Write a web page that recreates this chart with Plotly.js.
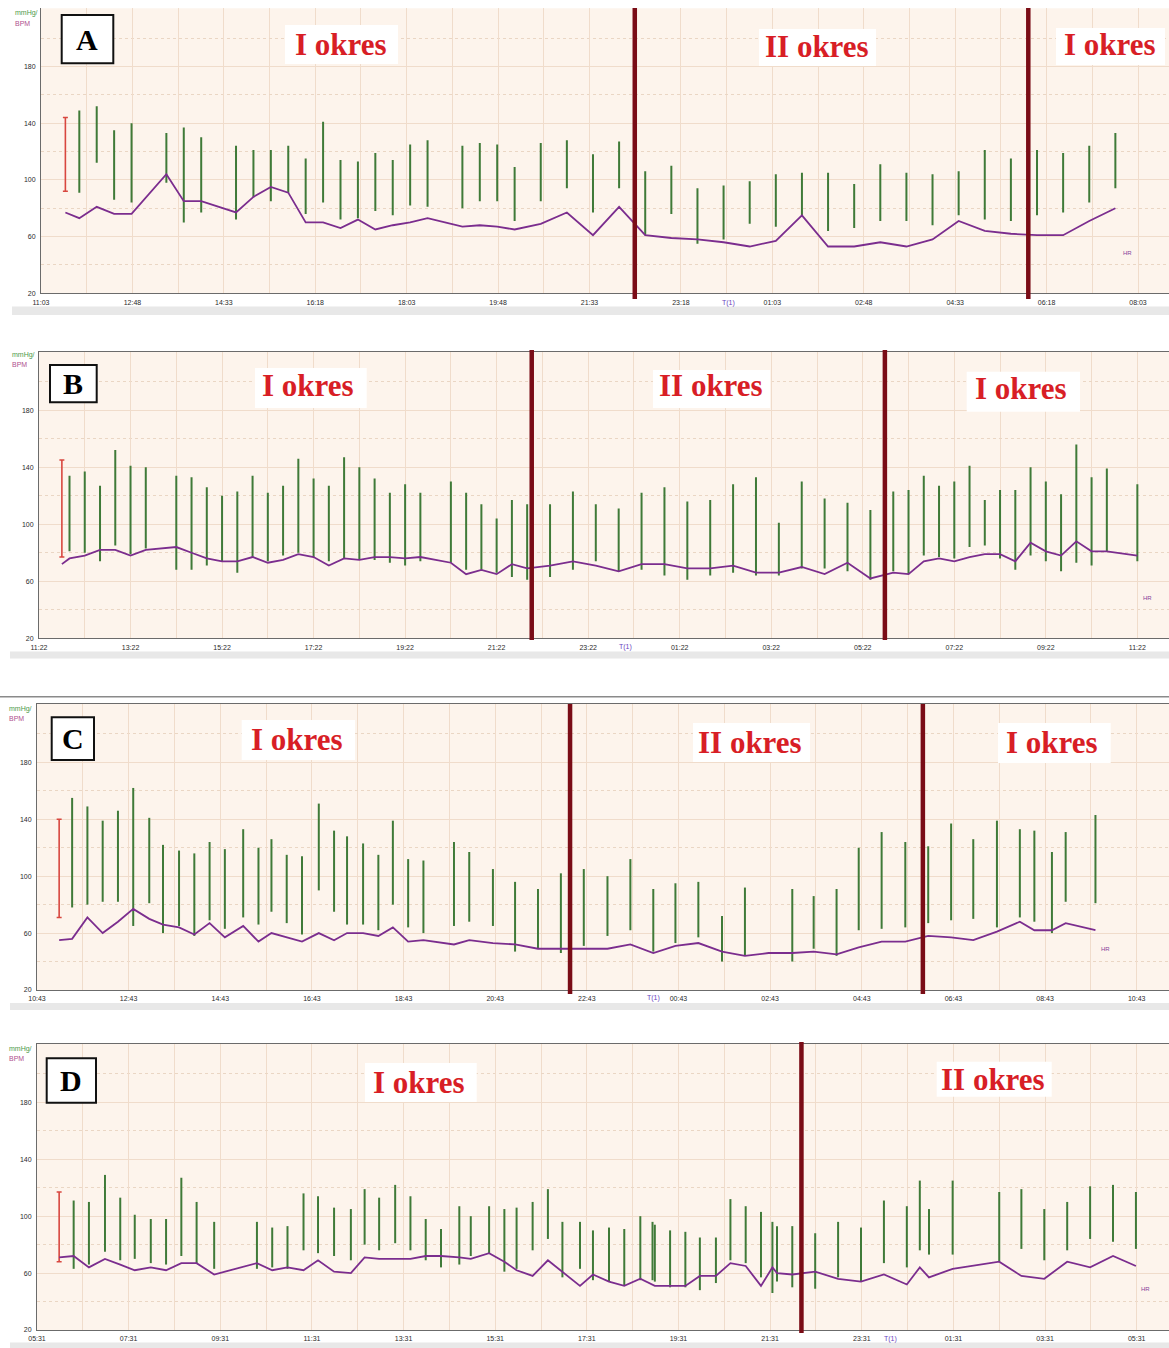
<!DOCTYPE html>
<html><head><meta charset="utf-8">
<script src="https://cdn.plot.ly/plotly-3.0.1.min.js"></script>
<style>html,body{margin:0;padding:0;background:#fff}#chart{width:1169px;height:1348px}</style>
</head><body><div id="chart"></div>
<script>
// ---------- DATA (minutes from start of each record) ----------
// Panel A
const aTickLabels = ["11:03","12:48","14:33","16:18","18:03","19:48","21:33","23:18","01:03","02:48","04:33","06:18","08:03"];
const aCal = [28, 144, 92];              // x, systolic, diastolic (red reference reading)
const aBpX = [44,64,84,104,144,164,184,224,244,264,284,304,324,344,364,384,404,424,444,484,504,524,544,574,604,634,664,694,724,754,784,814,844,874,904,934,964,994,1024,1054,1084,1114,1144,1174,1204,1234];
const aSys = [149,152,135,140,133,137,130,124,121,121,124,115,141,114,113,119,114,125,128,124,126,125,109,126,128,118,127,106,110,94,96,99,104,105,105,97,111,105,104,106,121,115,121,119,124,133];
const aDia = [91,112,86,84,98,70,77,72,88,85,91,76,84,72,73,78,75,82,81,80,85,85,71,85,94,77,94,61,76,55,58,69,67,75,64,66,71,71,68,75,72,71,75,77,84,94];
const aHrX = [28,44,64,84,104,144,164,184,224,244,264,284,304,324,344,364,384,404,424,444,484,504,524,544,574,604,634,664,694,724,754,784,814,844,874,904,934,964,994,1024,1054,1084,1114,1144,1174,1204,1234];
const aHr  = [77,73,81,76,76,104,85,85,77,88,95,91,70,70,66,72,65,68,70,73,67,68,67,65,69,77,61,81,61,59,58,56,53,57,75,53,53,56,53,58,71,64,62,61,61,71,80];
const aPeriods = [682, 1134];
const aPeriodLabels = ["I okres","II okres","I okres"];

// Panel B
const bTickLabels = ["11:22","13:22","15:22","17:22","19:22","21:22","23:22","01:22","03:22","05:22","07:22","09:22","11:22"];
const bCal = [30, 145, 77];
const bBpX = [40,60,80,100,120,140,180,200,220,240,260,280,300,320,340,360,380,400,420,440,460,480,500,540,560,580,600,620,640,670,700,730,760,790,820,850,880,910,940,970,1000,1030,1060,1090,1120,1140,1160,1180,1200,1220,1240,1260,1280,1300,1320,1340,1360,1380,1400,1440];
const bSys = [134,137,127,152,141,140,134,133,126,120,123,134,122,127,146,132,127,147,140,132,122,128,122,130,122,114,104,117,114,114,123,114,111,122,126,116,117,128,133,101,130,118,115,110,123,124,134,127,130,141,117,124,124,140,130,121,156,133,139,128];
const bDia = [81,80,74,85,79,83,68,68,71,74,66,77,74,78,80,77,74,76,75,75,73,71,74,73,68,68,66,63,61,63,68,74,67,68,64,61,64,66,64,64,69,69,67,61,67,65,78,77,76,84,85,76,68,78,74,67,73,71,81,74];
const bHrX = [30,40,60,80,100,120,140,180,200,220,240,260,280,300,320,340,360,380,400,420,440,460,480,500,540,560,580,600,620,640,670,700,730,760,790,820,850,880,910,940,970,1000,1030,1060,1090,1120,1140,1160,1180,1200,1220,1240,1260,1280,1300,1320,1340,1360,1380,1400,1440];
const bHr  = [72,76,78,82,82,78,82,84,80,76,74,74,77,73,75,79,77,71,76,75,77,77,76,77,73,65,68,65,72,69,71,74,71,67,72,72,69,69,71,66,66,70,65,73,62,66,65,74,76,74,77,79,79,74,87,81,78,88,81,81,78];
const bPeriods = [646, 1109];
const bPeriodLabels = ["I okres","II okres","I okres"];

// Panel C
const cTickLabels = ["10:43","12:43","14:43","16:43","18:43","20:43","22:43","00:43","02:43","04:43","06:43","08:43","10:43"];
const cCal = [29, 140, 71];
const cBpX = [46,66,86,106,126,147,165,186,206,226,246,270,290,307,327,347,369,389,406,427,447,466,486,506,546,566,597,626,656,686,716,747,777,807,836,866,897,927,989,1017,1047,1076,1106,1137,1167,1197,1226,1257,1287,1306,1329,1347,1386];
const cSys = [155,149,139,146,162,141,122,118,116,124,119,133,120,126,115,114,151,132,128,123,115,139,112,111,124,117,105,96,91,102,105,100,112,91,95,96,72,92,91,86,91,120,131,124,121,137,126,139,133,132,117,131,143];
const cDia = [78,80,82,82,65,81,60,65,58,69,63,71,66,75,67,59,90,75,66,66,62,80,64,60,65,68,65,47,49,46,51,58,62,47,53,57,40,44,40,49,44,62,63,64,67,69,70,64,71,68,60,82,81];
const cHrX = [29,46,66,86,106,126,147,165,186,206,226,246,270,290,307,327,347,369,389,406,427,447,466,486,506,546,566,597,626,656,686,716,747,777,807,836,866,897,927,958,989,1017,1047,1076,1106,1137,1167,1197,1226,1257,1287,1306,1329,1347,1386];
const cHr  = [55,56,71,60,68,77,70,66,64,59,67,57,65,54,60,57,54,60,55,60,60,58,64,54,55,52,55,53,52,49,49,49,49,52,46,51,53,47,44,46,46,47,45,50,54,54,58,57,55,61,68,62,62,67,62];
const cPeriods = [698, 1160];
const cPeriodLabels = ["I okres","II okres","I okres"];

// Panel D
const dTickLabels = ["05:31","07:31","09:31","11:31","13:31","15:31","17:31","19:31","21:31","23:31","01:31","03:31","05:31"];
const dCal = [29, 117, 68];
const dBpX = [48,68,89,109,128,149,169,189,209,232,288,308,328,349,368,389,411,429,448,469,489,509,529,553,568,592,612,628,649,669,688,711,728,749,769,790,806,809,829,849,868,889,908,928,948,963,969,989,1019,1049,1079,1109,1139,1156,1168,1199,1260,1289,1319,1349,1379,1409,1439];
const dSys = [111,110,129,113,101,98,98,127,110,96,96,92,93,116,114,106,105,119,113,122,114,98,91,107,100,107,105,106,110,119,96,96,90,92,91,100,96,94,90,89,85,85,112,107,103,96,93,93,88,96,92,111,107,125,105,125,117,119,105,110,121,122,117];
const dDia = [63,66,75,69,70,67,66,72,67,63,63,64,63,76,74,72,69,80,76,81,76,69,64,66,72,74,61,63,76,84,57,63,55,54,51,55,55,54,50,50,48,53,69,67,57,46,54,50,49,57,54,67,64,76,73,73,68,77,69,76,84,82,77];
const dHrX = [29,48,68,89,109,128,149,169,189,209,232,288,308,328,349,368,389,411,429,448,469,489,509,529,553,568,592,612,628,649,669,688,711,728,749,769,790,809,829,849,868,889,908,928,948,963,969,989,1019,1049,1079,1109,1139,1156,1168,1199,1260,1289,1319,1349,1379,1409,1439];
const dHr  = [71,72,64,70,66,62,64,62,67,67,59,67,62,64,62,69,61,60,71,70,70,70,72,72,71,70,74,68,62,58,69,61,51,59,54,51,56,51,51,51,58,58,67,65,51,64,60,59,61,56,54,59,52,64,57,63,68,58,56,68,64,72,65];
const dPeriods = [1001];
const dPeriodLabels = ["I okres","II okres"];

const yTickVals = [20,60,100,140,180];
const yMinorVals = [40,80,120,160,200];

// ---------- LAYOUT GEOMETRY (pixels) ----------
const W = 1169, H = 1348;
const fx = p => p / W, fy = p => 1 - p / H;

const panels = [
  {letter:"A", ticks:aTickLabels, step:105, cal:aCal, bpX:aBpX, sys:aSys, dia:aDia, hrX:aHrX, hr:aHr, periods:aPeriods, labels:aPeriodLabels,
   g:{left:41, top:8.3, bottom:293.3, xmax:1295.6, lineTop:8, lineBot:299, mirror:false, strip:[12,306.5,315],
      letterBox:[61.7,15,113.3,63.3], labelBoxes:[[285,25,398,64],[759,29,876,66],[1056,28,1165,65]], labelPos:[[340.5,44],[816.5,46],[1109.5,44]],
      unit:[13,13.3,23.3], hrLab:[1127,253.5], tLab:[728,303]}},
  {letter:"B", ticks:bTickLabels, step:120, cal:bCal, bpX:bBpX, sys:bSys, dia:bDia, hrX:bHrX, hr:bHr, periods:bPeriods, labels:bPeriodLabels,
   g:{left:39, top:351.7, bottom:638.3, xmax:1481.5, lineTop:350, lineBot:640, mirror:true, strip:[10,651.5,658.5],
      letterBox:[50,365,96.7,402.3], labelBoxes:[[255,368,366.7,408],[653,370,770,408],[966.7,371.7,1080,411.7]], labelPos:[[307.5,386],[710.5,386],[1021,388]],
      unit:[10,355,365], hrLab:[1147,597.7], tLab:[625,646.7]}},
  {letter:"C", ticks:cTickLabels, step:120, cal:cCal, bpX:cBpX, sys:cSys, dia:cDia, hrX:cHrX, hr:cHr, periods:cPeriods, labels:cPeriodLabels,
   g:{left:37, top:704, bottom:990, xmax:1482.3, lineTop:704, lineBot:994, mirror:true, strip:[10,1003,1010], topLine:696.7,
      letterBox:[51.7,717.3,94,760], labelBoxes:[[241.7,720,355,760],[693,723,810,762],[998,723,1110.7,763]], labelPos:[[296.7,739],[749.5,742],[1052,742]],
      unit:[7,709,718.3], hrLab:[1105,949], tLab:[653,998.3]}},
  {letter:"D", ticks:dTickLabels, step:120, cal:dCal, bpX:dBpX, sys:dSys, dia:dDia, hrX:dHrX, hr:dHr, periods:dPeriods, labels:dPeriodLabels,
   g:{left:37, top:1044, bottom:1330, xmax:1482.3, lineTop:1042, lineBot:1333, mirror:true, strip:[10,1342.5,1348],
      letterBox:[46.7,1058.3,96,1102.7], labelBoxes:[[365,1063,476.7,1102],[936.7,1061.7,1051.7,1096.7]], labelPos:[[419,1082],[993.3,1079]],
      unit:[7,1049,1058], hrLab:[1145,1289], tLab:[890.7,1339.3]}}
];

const BG = '#fdf4ec', GRID = '#f0dccb', GRIDMINOR = '#ead6c4';
const SERIF = '"Liberation Serif","Times New Roman",serif';
const SANS = '"Liberation Sans",Arial,sans-serif';

const data = [], shapes = [], annotations = [];
const layout = {width:W, height:H, margin:{l:0,r:0,t:0,b:0}, paper_bgcolor:'#ffffff', plot_bgcolor:BG, showlegend:false, hovermode:false};

panels.forEach((p, i) => {
  const n = i === 0 ? '' : String(i + 1);
  const xa = 'x' + n, ya = 'y' + n, g = p.g;
  const tickvals = p.ticks.map((t, k) => k * p.step);
  const minorvals = p.ticks.map((t, k) => k * p.step + p.step / 2);
  layout['xaxis' + n] = {
    domain:[fx(g.left), 1], range:[0, g.xmax], anchor:ya, fixedrange:true,
    tickmode:'array', tickvals:tickvals, ticktext:p.ticks, ticks:'', ticklabelstandoff:2,
    tickfont:{family:SANS, size:7, color:'#2a2a2a'},
    showgrid:true, gridcolor:GRID, gridwidth:1, zeroline:false,
    minor:{tickvals:minorvals, showgrid:true, gridcolor:GRID, gridwidth:1, ticks:''},
    showline:true, linecolor:'#6b6b6b', linewidth:1, mirror:g.mirror
  };
  layout['yaxis' + n] = {
    domain:[fy(g.bottom), fy(g.top)], range:[20, 221], anchor:xa, fixedrange:true,
    tickmode:'array', tickvals:yTickVals, ticks:'', ticklabelstandoff:3,
    tickfont:{family:SANS, size:7, color:'#2a2a2a'},
    showgrid:true, gridcolor:GRID, gridwidth:1, zeroline:false,
    minor:{tickvals:yMinorVals, showgrid:true, gridcolor:GRIDMINOR, griddash:'dot', gridwidth:1, ticks:''},
    showline:true, linecolor:'#6b6b6b', linewidth:1
  };

  // BP bars (diastolic -> systolic)
  const bx = [], by = [];
  p.bpX.forEach((x, k) => { bx.push(x, x, null); by.push(p.dia[k], p.sys[k], null); });
  data.push({type:'scatter', mode:'lines', x:bx, y:by, xaxis:xa, yaxis:ya, connectgaps:false,
             line:{color:'#3f7a38', width:2}, hoverinfo:'skip'});
  // reference (red) reading
  data.push({type:'scatter', mode:'markers', x:[p.cal[0]], y:[p.cal[2]], xaxis:xa, yaxis:ya,
             marker:{size:2, opacity:0},
             error_y:{type:'data', symmetric:false, array:[p.cal[1] - p.cal[2]], arrayminus:[0], color:'#d8473f', thickness:1.6, width:2.5},
             hoverinfo:'skip'});
  // heart rate
  data.push({type:'scatter', mode:'lines', x:p.hrX, y:p.hr, xaxis:xa, yaxis:ya,
             line:{color:'#7b2d8e', width:1.8}, hoverinfo:'skip'});

  // grey strip under panel
  shapes.push({type:'rect', xref:'paper', yref:'paper', x0:fx(g.strip[0]), x1:1, y0:fy(g.strip[2]), y1:fy(g.strip[1]),
               fillcolor:'#e8e8e8', line:{width:0}});
  if (g.topLine) shapes.push({type:'line', xref:'paper', yref:'paper', x0:0, x1:1, y0:fy(g.topLine), y1:fy(g.topLine),
               line:{color:'#8a8a8a', width:1.5}});
  // period boundaries
  p.periods.forEach(b => shapes.push({type:'line', xref:xa, yref:'paper', x0:b, x1:b, y0:fy(g.lineBot), y1:fy(g.lineTop),
               line:{color:'#7a0c16', width:4.5}}));
  // white label boxes
  g.labelBoxes.forEach(bx4 => shapes.push({type:'rect', xref:'paper', yref:'paper', x0:fx(bx4[0]), x1:fx(bx4[2]), y0:fy(bx4[3]), y1:fy(bx4[1]),
               fillcolor:'#ffffff', line:{width:0}}));
  // letter box
  const lb = g.letterBox;
  shapes.push({type:'rect', xref:'paper', yref:'paper', x0:fx(lb[0]), x1:fx(lb[2]), y0:fy(lb[3]), y1:fy(lb[1]),
               fillcolor:'#ffffff', line:{color:'#111111', width:2}});
  annotations.push({xref:'paper', yref:'paper', x:fx((lb[0] + lb[2]) / 2), y:fy((lb[1] + lb[3]) / 2), xanchor:'center', yanchor:'middle',
               text:'<b>' + p.letter + '</b>', showarrow:false, font:{family:SERIF, size:30, color:'#000'}});
  p.labels.forEach((t, k) => annotations.push({xref:'paper', yref:'paper', x:fx(g.labelPos[k][0]), y:fy(g.labelPos[k][1]),
               xanchor:'center', yanchor:'middle', text:'<b>' + t + '</b>', showarrow:false,
               font:{family:SERIF, size:31, color:'#d81e26'}}));
  // unit labels
  annotations.push({xref:'paper', yref:'paper', x:fx(g.unit[0]), y:fy(g.unit[1]), xanchor:'left', yanchor:'middle',
               text:'mmHg/', showarrow:false, font:{family:SANS, size:7, color:'#4c9a4c'}});
  annotations.push({xref:'paper', yref:'paper', x:fx(g.unit[0]), y:fy(g.unit[2]), xanchor:'left', yanchor:'middle',
               text:'BPM', showarrow:false, font:{family:SANS, size:7, color:'#b0508f'}});
  annotations.push({xref:'paper', yref:'paper', x:fx(g.hrLab[0]), y:fy(g.hrLab[1]), xanchor:'center', yanchor:'middle',
               text:'HR', showarrow:false, font:{family:SANS, size:6, color:'#8a3f9a'}});
  annotations.push({xref:'paper', yref:'paper', x:fx(g.tLab[0]), y:fy(g.tLab[1]), xanchor:'center', yanchor:'middle',
               text:'T(1)', showarrow:false, font:{family:SANS, size:7, color:'#6a3fc0'}});
});

layout.shapes = shapes;
layout.annotations = annotations;
Plotly.newPlot('chart', data, layout, {staticPlot:true, displayModeBar:false});
</script>
</body></html>
